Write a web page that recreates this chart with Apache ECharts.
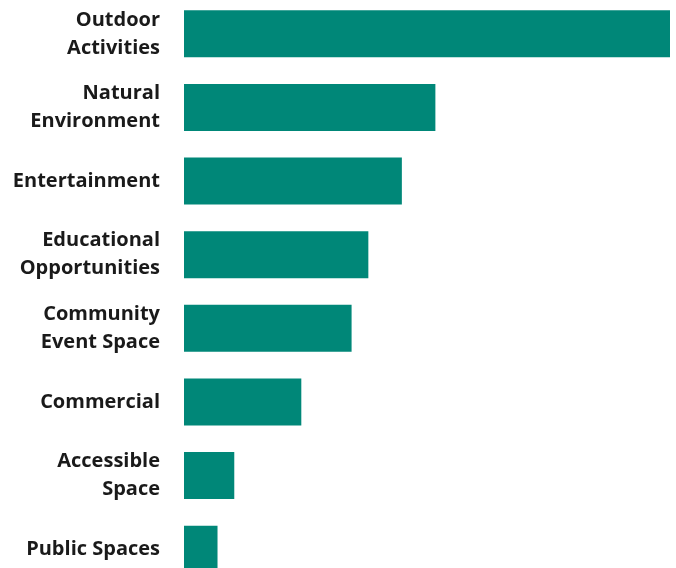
<!DOCTYPE html>
<html><head><meta charset="utf-8">
<script src="https://cdn.jsdelivr.net/npm/echarts@6/dist/echarts.min.js"></script>
<style>html,body{margin:0;padding:0;background:#fff}#c{width:676px;height:568px}</style>
</head><body><div id="c"></div>
<script>
const categories = ["Outdoor\nActivities","Natural\nEnvironment","Entertainment","Educational\nOpportunities","Community\nEvent Space","Commercial","Accessible\nSpace","Public Spaces"];
const values = [29,15,13,11,10,7,3,2];
const chart = echarts.init(document.getElementById('c'));
chart.setOption({
  animation:false,
  grid:{left:184,right:6,top:-3,height:589,containLabel:false,outerBoundsMode:'none'},
  xAxis:{type:'value',min:0,max:29,show:false},
  yAxis:{type:'category',data:categories,inverse:true,
    axisLine:{show:false},axisTick:{show:false},splitLine:{show:false},
    axisLabel:{margin:24,color:'#1a1a1a',fontFamily:'Open Sans',fontWeight:'bold',fontSize:20,lineHeight:28,align:'right'}},
  series:[{type:'bar',data:values,barWidth:47,itemStyle:{color:'#008778'},label:{show:false}}]
});
</script></body></html>
